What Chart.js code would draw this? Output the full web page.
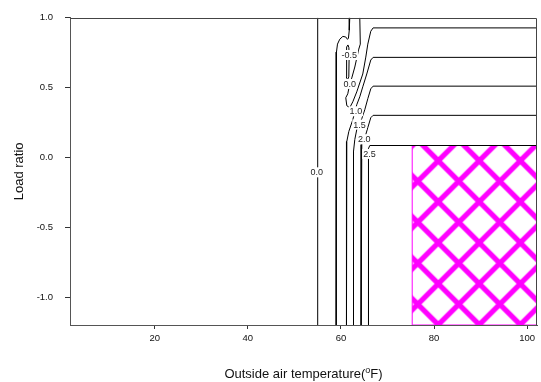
<!DOCTYPE html>
<html>
<head>
<meta charset="utf-8">
<script src="https://cdn.jsdelivr.net/npm/chart.js@4/dist/chart.umd.min.js"></script>
<style>
  html, body { margin: 0; padding: 0; background: #fff; }
  canvas { display: block; }
</style>
</head>
<body>
<canvas id="c" width="541" height="382"></canvas>
<script>
const FONT = '"Liberation Sans", Arial, Helvetica, sans-serif';

// axes
const xTicks = [20, 40, 60, 80, 100];
const yTicks = [1.0, 0.5, 0.0, -0.5, -1.0];
const xRange = [1.8, 102.1];
const yRange = [-1.2, 1.0];
const xTitleParts = ['Outside air temperature(', 'o', 'F)'];
const yTitle = 'Load ratio';

// contour polylines as [outside air temperature °F, load ratio]
const contourLeft  = [[55.0, -1.2], [55.0, 1.0]];
const contourOuter = [[61.89, 1.0], [61.78, 0.91], [61.60, 0.853], [61.40, 0.845], [61.03, 0.862],
                      [60.39, 0.866], [59.74, 0.846], [59.25, 0.811], [59.03, 0.754], [58.99, 0.60], [58.95, -1.2]];
const contourLoop  = [[61.14, 0.576], [61.14, 0.72], [61.28, 0.79], [61.50, 0.805], [61.70, 0.785],
                      [61.74, 0.70], [61.68, 0.576], [61.40, 0.555], [61.14, 0.576]];
const contourU     = [[64.04, 1.0], [64.15, 0.811], [63.82, 0.775], [62.97, 0.647], [62.32, 0.569],
                      [61.89, 0.526], [61.46, 0.455], [61.03, 0.427], [61.25, 0.370], [61.89, 0.356],
                      [62.54, 0.398], [63.39, 0.469], [64.68, 0.597], [65.33, 0.718], [65.76, 0.811],
                      [66.40, 0.903], [66.90, 0.927], [102.1, 0.927]];
const contour10    = [[102.1, 0.716], [66.90, 0.716], [66.40, 0.697], [65.54, 0.597], [64.68, 0.505],
                      [64.04, 0.434], [63.39, 0.377], [62.54, 0.270], [61.68, 0.185], [61.25, 0.114],
                      [61.18, 0.043], [61.18, -1.2]];
const contour15    = [[102.1, 0.510], [66.90, 0.510], [66.40, 0.491], [65.76, 0.420], [65.11, 0.341],
                      [64.47, 0.277], [63.39, 0.199], [62.97, 0.128], [62.69, 0.043], [62.69, -1.2]];
const contour20    = [[102.1, 0.301], [66.90, 0.301], [66.40, 0.284], [65.76, 0.213], [65.33, 0.164],
                      [64.47, 0.092], [64.32, 0.043], [64.32, -1.2]];
const contour25    = [[102.1, 0.085], [66.19, 0.085], [65.91, 0.064], [65.91, -1.2]];

// contour level labels
const labelLevels = [0.0, -0.5, 0.0, 1.0, 1.5, 2.0, 2.5];
const labelX      = [54.8, 61.8, 61.9, 63.2, 64.0, 65.0, 66.1];
const labelY      = [-0.107, 0.733, 0.526, 0.33, 0.235, 0.13, 0.025];

// cross-hatched region
const hatchX = [75.3, 102.1];
const hatchY = [-1.2, 0.085];

const toXY = arr => arr.map(([x, y]) => ({ x, y }));

// diagonal cross-hatch pattern tile
function makeHatch() {
  const P = 41;
  const t = document.createElement('canvas');
  t.width = P; t.height = P;
  const g = t.getContext('2d');
  g.strokeStyle = '#ff00ff';
  g.lineWidth = 5.2;
  g.beginPath();
  for (const c of [-P, 0, P]) {
    g.moveTo(c - 10, -10); g.lineTo(c + P + 10, P + 10);
  }
  for (const c of [0, P, 2 * P]) {
    g.moveTo(c + 10, -10); g.lineTo(c - P - 10, P + 10);
  }
  g.stroke();
  const pat = document.getElementById('c').getContext('2d').createPattern(t, 'repeat');
  pat.setTransform(new DOMMatrix([1, 0, 0, 1, 28.3, 37.7]));
  return pat;
}

const lineStyle = { borderColor: '#000', borderWidth: 1, pointRadius: 0, tension: 0, fill: false };
const contours = [contourLeft, contourOuter, contourLoop, contourU, contour10, contour15, contour20, contour25];

const datasets = contours.map(c => Object.assign({ data: toXY(c) }, lineStyle));
datasets.push({
  data: toXY([[hatchX[0], hatchY[0]], [hatchX[0], hatchY[1]], [hatchX[1], hatchY[1]], [hatchX[1], hatchY[0]], [hatchX[0], hatchY[0]]]),
  borderColor: '#ff00ff', borderWidth: 1, pointRadius: 0, tension: 0,
  backgroundColor: makeHatch(), fill: 'shape'
});

const decor = {
  id: 'decor',
  afterDatasetsDraw(chart) {
    const { ctx, scales: { x, y }, chartArea: a } = chart;
    ctx.save();
    // frame on top and right
    ctx.strokeStyle = '#444';
    ctx.lineWidth = 1;
    ctx.beginPath();
    ctx.moveTo(Math.round(a.left) + 0.5, Math.round(a.top) + 0.5);
    ctx.lineTo(Math.round(a.right) - 0.5, Math.round(a.top) + 0.5);
    ctx.lineTo(Math.round(a.right) - 0.5, Math.round(a.bottom) + 0.5);
    ctx.stroke();
    // contour labels
    ctx.font = '9px ' + FONT;
    ctx.textAlign = 'center';
    ctx.textBaseline = 'middle';
    labelLevels.forEach((lv, i) => {
      const txt = lv.toFixed(1);
      const px = x.getPixelForValue(labelX[i]);
      const py = y.getPixelForValue(labelY[i]);
      const w = ctx.measureText(txt).width;
      ctx.fillStyle = '#fff';
      ctx.fillRect(px - w / 2 - 1, py - 5, w + 2, 10);
      ctx.fillStyle = '#222';
      ctx.fillText(txt, px, py + 0.5);
    });
    ctx.restore();
  },
  afterDraw(chart) {
    const { ctx, chartArea: a } = chart;
    ctx.save();
    ctx.fillStyle = '#111';
    // x title with superscript
    const big = '13px ' + FONT, small = '9px ' + FONT;
    ctx.font = big;
    const w1 = ctx.measureText(xTitleParts[0]).width;
    const w3 = ctx.measureText(xTitleParts[2]).width;
    ctx.font = small;
    const w2 = ctx.measureText(xTitleParts[1]).width;
    const cx = (a.left + a.right) / 2;
    let sx = cx - (w1 + w2 + w3) / 2;
    const base = 377.5;
    ctx.textBaseline = 'alphabetic';
    ctx.textAlign = 'left';
    ctx.font = big;
    ctx.fillText(xTitleParts[0], sx, base);
    ctx.font = small;
    ctx.fillText(xTitleParts[1], sx + w1, base - 5);
    ctx.font = big;
    ctx.fillText(xTitleParts[2], sx + w1 + w2, base);
    // y title
    ctx.translate(19, (a.top + a.bottom) / 2);
    ctx.rotate(-Math.PI / 2);
    ctx.textAlign = 'center';
    ctx.textBaseline = 'middle';
    ctx.font = big;
    ctx.fillText(yTitle, 0, 0);
    ctx.restore();
  }
};

new Chart(document.getElementById('c'), {
  type: 'line',
  data: { datasets },
  options: {
    responsive: false,
    devicePixelRatio: 1,
    animation: false,
    events: [],
    layout: { padding: { top: 15, right: 4, left: 0, bottom: 0 } },
    plugins: { legend: { display: false }, tooltip: { enabled: false } },
    scales: {
      x: {
        type: 'linear', min: xRange[0], max: xRange[1],
        afterBuildTicks: s => { s.ticks = xTicks.map(v => ({ value: v })); },
        afterFit: s => { s.height = 57; },
        ticks: { font: { family: FONT, size: 9.5 }, color: '#111', padding: 4, maxRotation: 0, autoSkip: false,
                 callback: v => String(v) },
        grid: { display: true, drawOnChartArea: false, drawTicks: true, tickLength: 4, color: '#333' },
        border: { display: true, color: '#555', width: 1 }
      },
      y: {
        type: 'linear', min: yRange[0], max: yRange[1],
        afterBuildTicks: s => { s.ticks = yTicks.map(v => ({ value: v })); },
        afterFit: s => { s.width = 70; },
        ticks: { font: { family: FONT, size: 9.5 }, color: '#111', padding: 12, autoSkip: false,
                 callback: v => v.toFixed(1) },
        grid: { display: true, drawOnChartArea: false, drawTicks: true, tickLength: 5, color: '#333' },
        border: { display: true, color: '#555', width: 1 }
      }
    }
  },
  plugins: [decor]
});
</script>
</body>
</html>
